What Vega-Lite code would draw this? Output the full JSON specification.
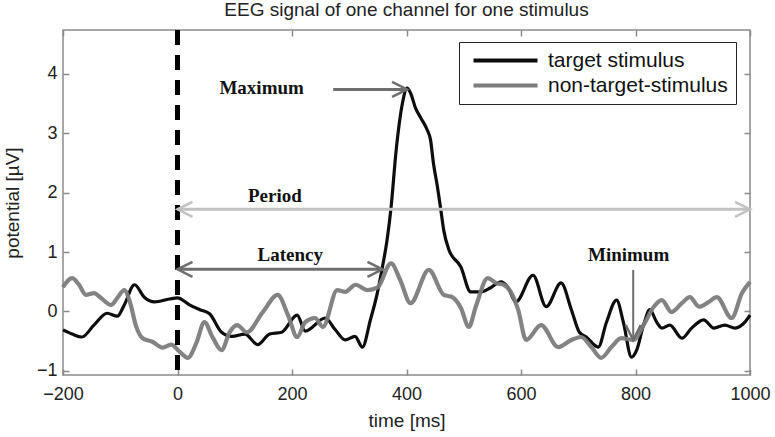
{
  "$schema": "https://vega.github.io/schema/vega-lite/v6.json",
  "width": 687,
  "height": 345,
  "autosize": {"type": "none"},
  "padding": {"left": 63, "top": 30, "right": 25, "bottom": 62},
  "background": "white",
  "title": {"text": "EEG signal of one channel for one stimulus", "fontSize": 19, "font": "Liberation Sans", "fontWeight": "normal", "color": "#222", "offset": 8},
  "config": {
    "view": {"stroke": "#8a8a8a", "strokeWidth": 1.5},
    "axis": {"domain": false, "grid": false, "tickColor": "#8a8a8a", "tickWidth": 1.5, "labelFont": "Liberation Sans", "labelFontSize": 18, "labelColor": "#222", "titleFont": "Liberation Sans", "titleFontSize": 19, "titleFontWeight": "normal", "titleColor": "#222"}
  },
  "datasets": {
    "target": [
      {"series": "target stimulus", "t": -200, "v": -0.31},
      {"series": "target stimulus", "t": -184, "v": -0.38},
      {"series": "target stimulus", "t": -167, "v": -0.43},
      {"series": "target stimulus", "t": -146, "v": -0.23},
      {"series": "target stimulus", "t": -123, "v": -0.03},
      {"series": "target stimulus", "t": -105, "v": -0.08},
      {"series": "target stimulus", "t": -93, "v": 0.11},
      {"series": "target stimulus", "t": -75, "v": 0.45},
      {"series": "target stimulus", "t": -58, "v": 0.24},
      {"series": "target stimulus", "t": -40, "v": 0.16},
      {"series": "target stimulus", "t": -14, "v": 0.21},
      {"series": "target stimulus", "t": 0, "v": 0.23},
      {"series": "target stimulus", "t": 21, "v": 0.11},
      {"series": "target stimulus", "t": 39, "v": 0.03},
      {"series": "target stimulus", "t": 56, "v": -0.04},
      {"series": "target stimulus", "t": 77, "v": -0.35},
      {"series": "target stimulus", "t": 95, "v": -0.42},
      {"series": "target stimulus", "t": 118, "v": -0.38},
      {"series": "target stimulus", "t": 140, "v": -0.56},
      {"series": "target stimulus", "t": 161, "v": -0.38},
      {"series": "target stimulus", "t": 182, "v": -0.35},
      {"series": "target stimulus", "t": 209, "v": -0.06},
      {"series": "target stimulus", "t": 223, "v": -0.33},
      {"series": "target stimulus", "t": 258, "v": -0.11},
      {"series": "target stimulus", "t": 275, "v": -0.3},
      {"series": "target stimulus", "t": 293, "v": -0.48},
      {"series": "target stimulus", "t": 310, "v": -0.42},
      {"series": "target stimulus", "t": 323, "v": -0.6},
      {"series": "target stimulus", "t": 337, "v": -0.14},
      {"series": "target stimulus", "t": 349, "v": 0.31},
      {"series": "target stimulus", "t": 358, "v": 0.75},
      {"series": "target stimulus", "t": 366, "v": 1.2},
      {"series": "target stimulus", "t": 373, "v": 1.75},
      {"series": "target stimulus", "t": 382, "v": 2.72},
      {"series": "target stimulus", "t": 393, "v": 3.51},
      {"series": "target stimulus", "t": 401, "v": 3.76},
      {"series": "target stimulus", "t": 407, "v": 3.68},
      {"series": "target stimulus", "t": 416, "v": 3.42},
      {"series": "target stimulus", "t": 425, "v": 3.26},
      {"series": "target stimulus", "t": 436, "v": 3.06},
      {"series": "target stimulus", "t": 442, "v": 2.89},
      {"series": "target stimulus", "t": 447, "v": 2.5},
      {"series": "target stimulus", "t": 454, "v": 2.1},
      {"series": "target stimulus", "t": 460, "v": 1.71},
      {"series": "target stimulus", "t": 465, "v": 1.37},
      {"series": "target stimulus", "t": 474, "v": 1.04},
      {"series": "target stimulus", "t": 495, "v": 0.75},
      {"series": "target stimulus", "t": 512, "v": 0.33},
      {"series": "target stimulus", "t": 530, "v": 0.33},
      {"series": "target stimulus", "t": 547, "v": 0.4},
      {"series": "target stimulus", "t": 565, "v": 0.5},
      {"series": "target stimulus", "t": 577, "v": 0.41},
      {"series": "target stimulus", "t": 591, "v": 0.16},
      {"series": "target stimulus", "t": 621, "v": 0.61},
      {"series": "target stimulus", "t": 644, "v": 0.08},
      {"series": "target stimulus", "t": 670, "v": 0.48},
      {"series": "target stimulus", "t": 688, "v": 0.03},
      {"series": "target stimulus", "t": 702, "v": -0.35},
      {"series": "target stimulus", "t": 714, "v": -0.43},
      {"series": "target stimulus", "t": 735, "v": -0.6},
      {"series": "target stimulus", "t": 749, "v": -0.19},
      {"series": "target stimulus", "t": 767, "v": 0.19},
      {"series": "target stimulus", "t": 779, "v": -0.19},
      {"series": "target stimulus", "t": 793, "v": -0.77},
      {"series": "target stimulus", "t": 802, "v": -0.65},
      {"series": "target stimulus", "t": 814, "v": -0.23},
      {"series": "target stimulus", "t": 825, "v": 0.03},
      {"series": "target stimulus", "t": 837, "v": -0.18},
      {"series": "target stimulus", "t": 846, "v": -0.28},
      {"series": "target stimulus", "t": 860, "v": -0.23},
      {"series": "target stimulus", "t": 881, "v": -0.45},
      {"series": "target stimulus", "t": 898, "v": -0.28},
      {"series": "target stimulus", "t": 919, "v": -0.14},
      {"series": "target stimulus", "t": 937, "v": -0.28},
      {"series": "target stimulus", "t": 956, "v": -0.23},
      {"series": "target stimulus", "t": 974, "v": -0.28},
      {"series": "target stimulus", "t": 991, "v": -0.18},
      {"series": "target stimulus", "t": 1000, "v": -0.06}
    ],
    "nontarget": [
      {"series": "non-target-stimulus", "t": -200, "v": 0.41},
      {"series": "non-target-stimulus", "t": -184, "v": 0.56},
      {"series": "non-target-stimulus", "t": -172, "v": 0.45},
      {"series": "non-target-stimulus", "t": -160, "v": 0.28},
      {"series": "non-target-stimulus", "t": -146, "v": 0.31},
      {"series": "non-target-stimulus", "t": -134, "v": 0.23},
      {"series": "non-target-stimulus", "t": -116, "v": 0.11},
      {"series": "non-target-stimulus", "t": -105, "v": 0.23},
      {"series": "non-target-stimulus", "t": -93, "v": 0.36},
      {"series": "non-target-stimulus", "t": -84, "v": 0.19},
      {"series": "non-target-stimulus", "t": -72, "v": -0.26},
      {"series": "non-target-stimulus", "t": -61, "v": -0.45},
      {"series": "non-target-stimulus", "t": -44, "v": -0.51},
      {"series": "non-target-stimulus", "t": -26, "v": -0.61},
      {"series": "non-target-stimulus", "t": -11, "v": -0.56},
      {"series": "non-target-stimulus", "t": 4, "v": -0.68},
      {"series": "non-target-stimulus", "t": 18, "v": -0.78},
      {"series": "non-target-stimulus", "t": 33, "v": -0.53},
      {"series": "non-target-stimulus", "t": 47, "v": -0.18},
      {"series": "non-target-stimulus", "t": 61, "v": -0.43},
      {"series": "non-target-stimulus", "t": 77, "v": -0.65},
      {"series": "non-target-stimulus", "t": 91, "v": -0.35},
      {"series": "non-target-stimulus", "t": 104, "v": -0.23},
      {"series": "non-target-stimulus", "t": 121, "v": -0.35},
      {"series": "non-target-stimulus", "t": 149, "v": -0.01},
      {"series": "non-target-stimulus", "t": 175, "v": 0.28},
      {"series": "non-target-stimulus", "t": 193, "v": -0.06},
      {"series": "non-target-stimulus", "t": 209, "v": -0.43},
      {"series": "non-target-stimulus", "t": 223, "v": -0.18},
      {"series": "non-target-stimulus", "t": 240, "v": -0.11},
      {"series": "non-target-stimulus", "t": 254, "v": -0.26},
      {"series": "non-target-stimulus", "t": 279, "v": 0.36},
      {"series": "non-target-stimulus", "t": 293, "v": 0.33},
      {"series": "non-target-stimulus", "t": 311, "v": 0.45},
      {"series": "non-target-stimulus", "t": 332, "v": 0.36},
      {"series": "non-target-stimulus", "t": 349, "v": 0.4},
      {"series": "non-target-stimulus", "t": 373, "v": 0.81},
      {"series": "non-target-stimulus", "t": 389, "v": 0.53},
      {"series": "non-target-stimulus", "t": 407, "v": 0.14},
      {"series": "non-target-stimulus", "t": 439, "v": 0.7},
      {"series": "non-target-stimulus", "t": 465, "v": 0.28},
      {"series": "non-target-stimulus", "t": 480, "v": 0.24},
      {"series": "non-target-stimulus", "t": 495, "v": 0.06},
      {"series": "non-target-stimulus", "t": 509, "v": -0.26},
      {"series": "non-target-stimulus", "t": 521, "v": 0.08},
      {"series": "non-target-stimulus", "t": 542, "v": 0.56},
      {"series": "non-target-stimulus", "t": 556, "v": 0.48},
      {"series": "non-target-stimulus", "t": 570, "v": 0.45},
      {"series": "non-target-stimulus", "t": 582, "v": 0.33},
      {"series": "non-target-stimulus", "t": 595, "v": 0.03},
      {"series": "non-target-stimulus", "t": 609, "v": -0.48},
      {"series": "non-target-stimulus", "t": 635, "v": -0.23},
      {"series": "non-target-stimulus", "t": 665, "v": -0.6},
      {"series": "non-target-stimulus", "t": 688, "v": -0.48},
      {"series": "non-target-stimulus", "t": 705, "v": -0.43},
      {"series": "non-target-stimulus", "t": 723, "v": -0.6},
      {"series": "non-target-stimulus", "t": 740, "v": -0.78},
      {"series": "non-target-stimulus", "t": 758, "v": -0.6},
      {"series": "non-target-stimulus", "t": 775, "v": -0.45},
      {"series": "non-target-stimulus", "t": 796, "v": -0.48},
      {"series": "non-target-stimulus", "t": 814, "v": -0.23},
      {"series": "non-target-stimulus", "t": 832, "v": 0.08},
      {"series": "non-target-stimulus", "t": 846, "v": 0.19},
      {"series": "non-target-stimulus", "t": 863, "v": -0.01},
      {"series": "non-target-stimulus", "t": 881, "v": 0.14},
      {"series": "non-target-stimulus", "t": 895, "v": 0.24},
      {"series": "non-target-stimulus", "t": 911, "v": 0.08},
      {"series": "non-target-stimulus", "t": 928, "v": 0.16},
      {"series": "non-target-stimulus", "t": 942, "v": 0.24},
      {"series": "non-target-stimulus", "t": 968, "v": -0.11},
      {"series": "non-target-stimulus", "t": 986, "v": 0.31},
      {"series": "non-target-stimulus", "t": 1000, "v": 0.5}
    ],
    "arrows": [
      {"name": "Maximum", "t": 272, "t2": 401, "v": 3.74, "v2": 3.74},
      {"name": "Period", "t": 0, "t2": 1000, "v": 1.72, "v2": 1.72},
      {"name": "Latency", "t": 0, "t2": 358, "v": 0.71, "v2": 0.71},
      {"name": "Minimum", "t": 796, "t2": 796, "v": 0.7, "v2": -0.48}
    ],
    "heads": [
      {"name": "Maximum", "t": 401, "v": 3.74, "dir": "right"},
      {"name": "Period", "t": 0, "v": 1.72, "dir": "left"},
      {"name": "Period", "t": 1000, "v": 1.72, "dir": "right"},
      {"name": "Latency", "t": 0, "v": 0.71, "dir": "left"},
      {"name": "Latency", "t": 358, "v": 0.71, "dir": "right"},
      {"name": "Minimum", "t": 796, "v": -0.48, "dir": "down"}
    ],
    "labels": [
      {"name": "Maximum", "t": 147, "v": 3.77},
      {"name": "Period", "t": 170, "v": 1.94},
      {"name": "Latency", "t": 197, "v": 0.95},
      {"name": "Minimum", "t": 788, "v": 0.95}
    ],
    "onset": [{"t": 0}]
  },
  "resolve": {"axis": {"x": "independent", "y": "independent"}},
  "layer": [
    {
      "data": {"name": "target"},
      "mark": {"type": "line", "interpolate": "monotone", "strokeWidth": 3.2},
      "encoding": {
        "x": {"field": "t", "type": "quantitative", "scale": {"domain": [-200, 1000], "nice": false, "zero": false},
          "axis": {"orient": "bottom", "values": [-200, 0, 200, 400, 600, 800, 1000], "format": "d", "tickSize": -6, "labelPadding": 16, "title": "time [ms]", "titlePadding": 8, "labelFlush": false}},
        "y": {"field": "v", "type": "quantitative", "scale": {"domain": [-1.07, 4.74], "nice": false, "zero": false},
          "axis": {"orient": "left", "values": [-1, 0, 1, 2, 3, 4], "tickSize": -6, "labelPadding": 12, "title": "potential [µV]", "titlePadding": 14}},
        "color": {"field": "series", "type": "nominal",
          "scale": {"domain": ["target stimulus", "non-target-stimulus"], "range": ["#0d0d0d", "#7c7c7c"]},
          "legend": {"orient": "none", "legendX": 396, "legendY": 12, "direction": "vertical", "columns": 1, "title": null, "strokeColor": "#222", "fillColor": "white", "padding": 8, "symbolType": "M-4,0L4,0", "symbolSize": 256, "symbolOffset": 28, "symbolStrokeWidth": 4, "labelFont": "Liberation Sans", "labelFontSize": 21, "labelColor": "#111", "labelAlign": "left", "labelOffset": 32, "rowPadding": 3, "labelLimit": 300}}
      }
    },
    {
      "data": {"name": "nontarget"},
      "mark": {"type": "line", "interpolate": "monotone", "strokeWidth": 4.2, "opacity": 0.95},
      "encoding": {
        "x": {"field": "t", "type": "quantitative", "axis": null},
        "y": {"field": "v", "type": "quantitative", "axis": null},
        "color": {"field": "series", "type": "nominal", "legend": null}
      }
    },
    {
      "data": {"name": "onset"},
      "mark": {"type": "rule", "color": "#000", "strokeWidth": 5, "strokeDash": [15, 10]},
      "encoding": {"x": {"field": "t", "type": "quantitative", "axis": null}}
    },
    {
      "data": {"name": "arrows"},
      "mark": {"type": "rule"},
      "encoding": {
        "x": {"field": "t", "type": "quantitative", "axis": null},
        "x2": {"field": "t2"},
        "y": {"field": "v", "type": "quantitative", "axis": null},
        "y2": {"field": "v2"},
        "color": {"condition": {"test": "datum.name === 'Period'", "value": "#c2c2c2"}, "value": "#6e6e6e"},
        "strokeWidth": {"condition": {"test": "datum.name === 'Minimum'", "value": 2}, "value": 3}
      }
    },
    {
      "data": {"name": "heads"},
      "mark": {"type": "point", "filled": false, "size": 900, "strokeWidth": 2.5, "opacity": 1},
      "encoding": {
        "x": {"field": "t", "type": "quantitative", "axis": null},
        "y": {"field": "v", "type": "quantitative", "axis": null},
        "shape": {"field": "dir", "type": "nominal", "legend": null,
          "scale": {"domain": ["right", "left", "down"], "range": ["M-1,-0.5L0,0L-1,0.5", "M1,-0.5L0,0L1,0.5", "M-0.5,-1L0,0L0.5,-1"]}},
        "color": {"condition": {"test": "datum.name === 'Period'", "value": "#c2c2c2"}, "value": "#6e6e6e"}
      }
    },
    {
      "data": {"name": "labels"},
      "mark": {"type": "text", "font": "Liberation Serif", "fontWeight": "bold", "fontSize": 19, "color": "#111", "align": "center", "baseline": "middle"},
      "encoding": {
        "x": {"field": "t", "type": "quantitative", "axis": {"orient": "top", "values": [-200, 0, 200, 400, 600, 800, 1000], "tickSize": -6, "labels": false, "title": null}},
        "y": {"field": "v", "type": "quantitative", "axis": {"orient": "right", "values": [-1, 0, 1, 2, 3, 4], "tickSize": -6, "labels": false, "title": null}},
        "text": {"field": "name"}
      }
    }
  ]
}
